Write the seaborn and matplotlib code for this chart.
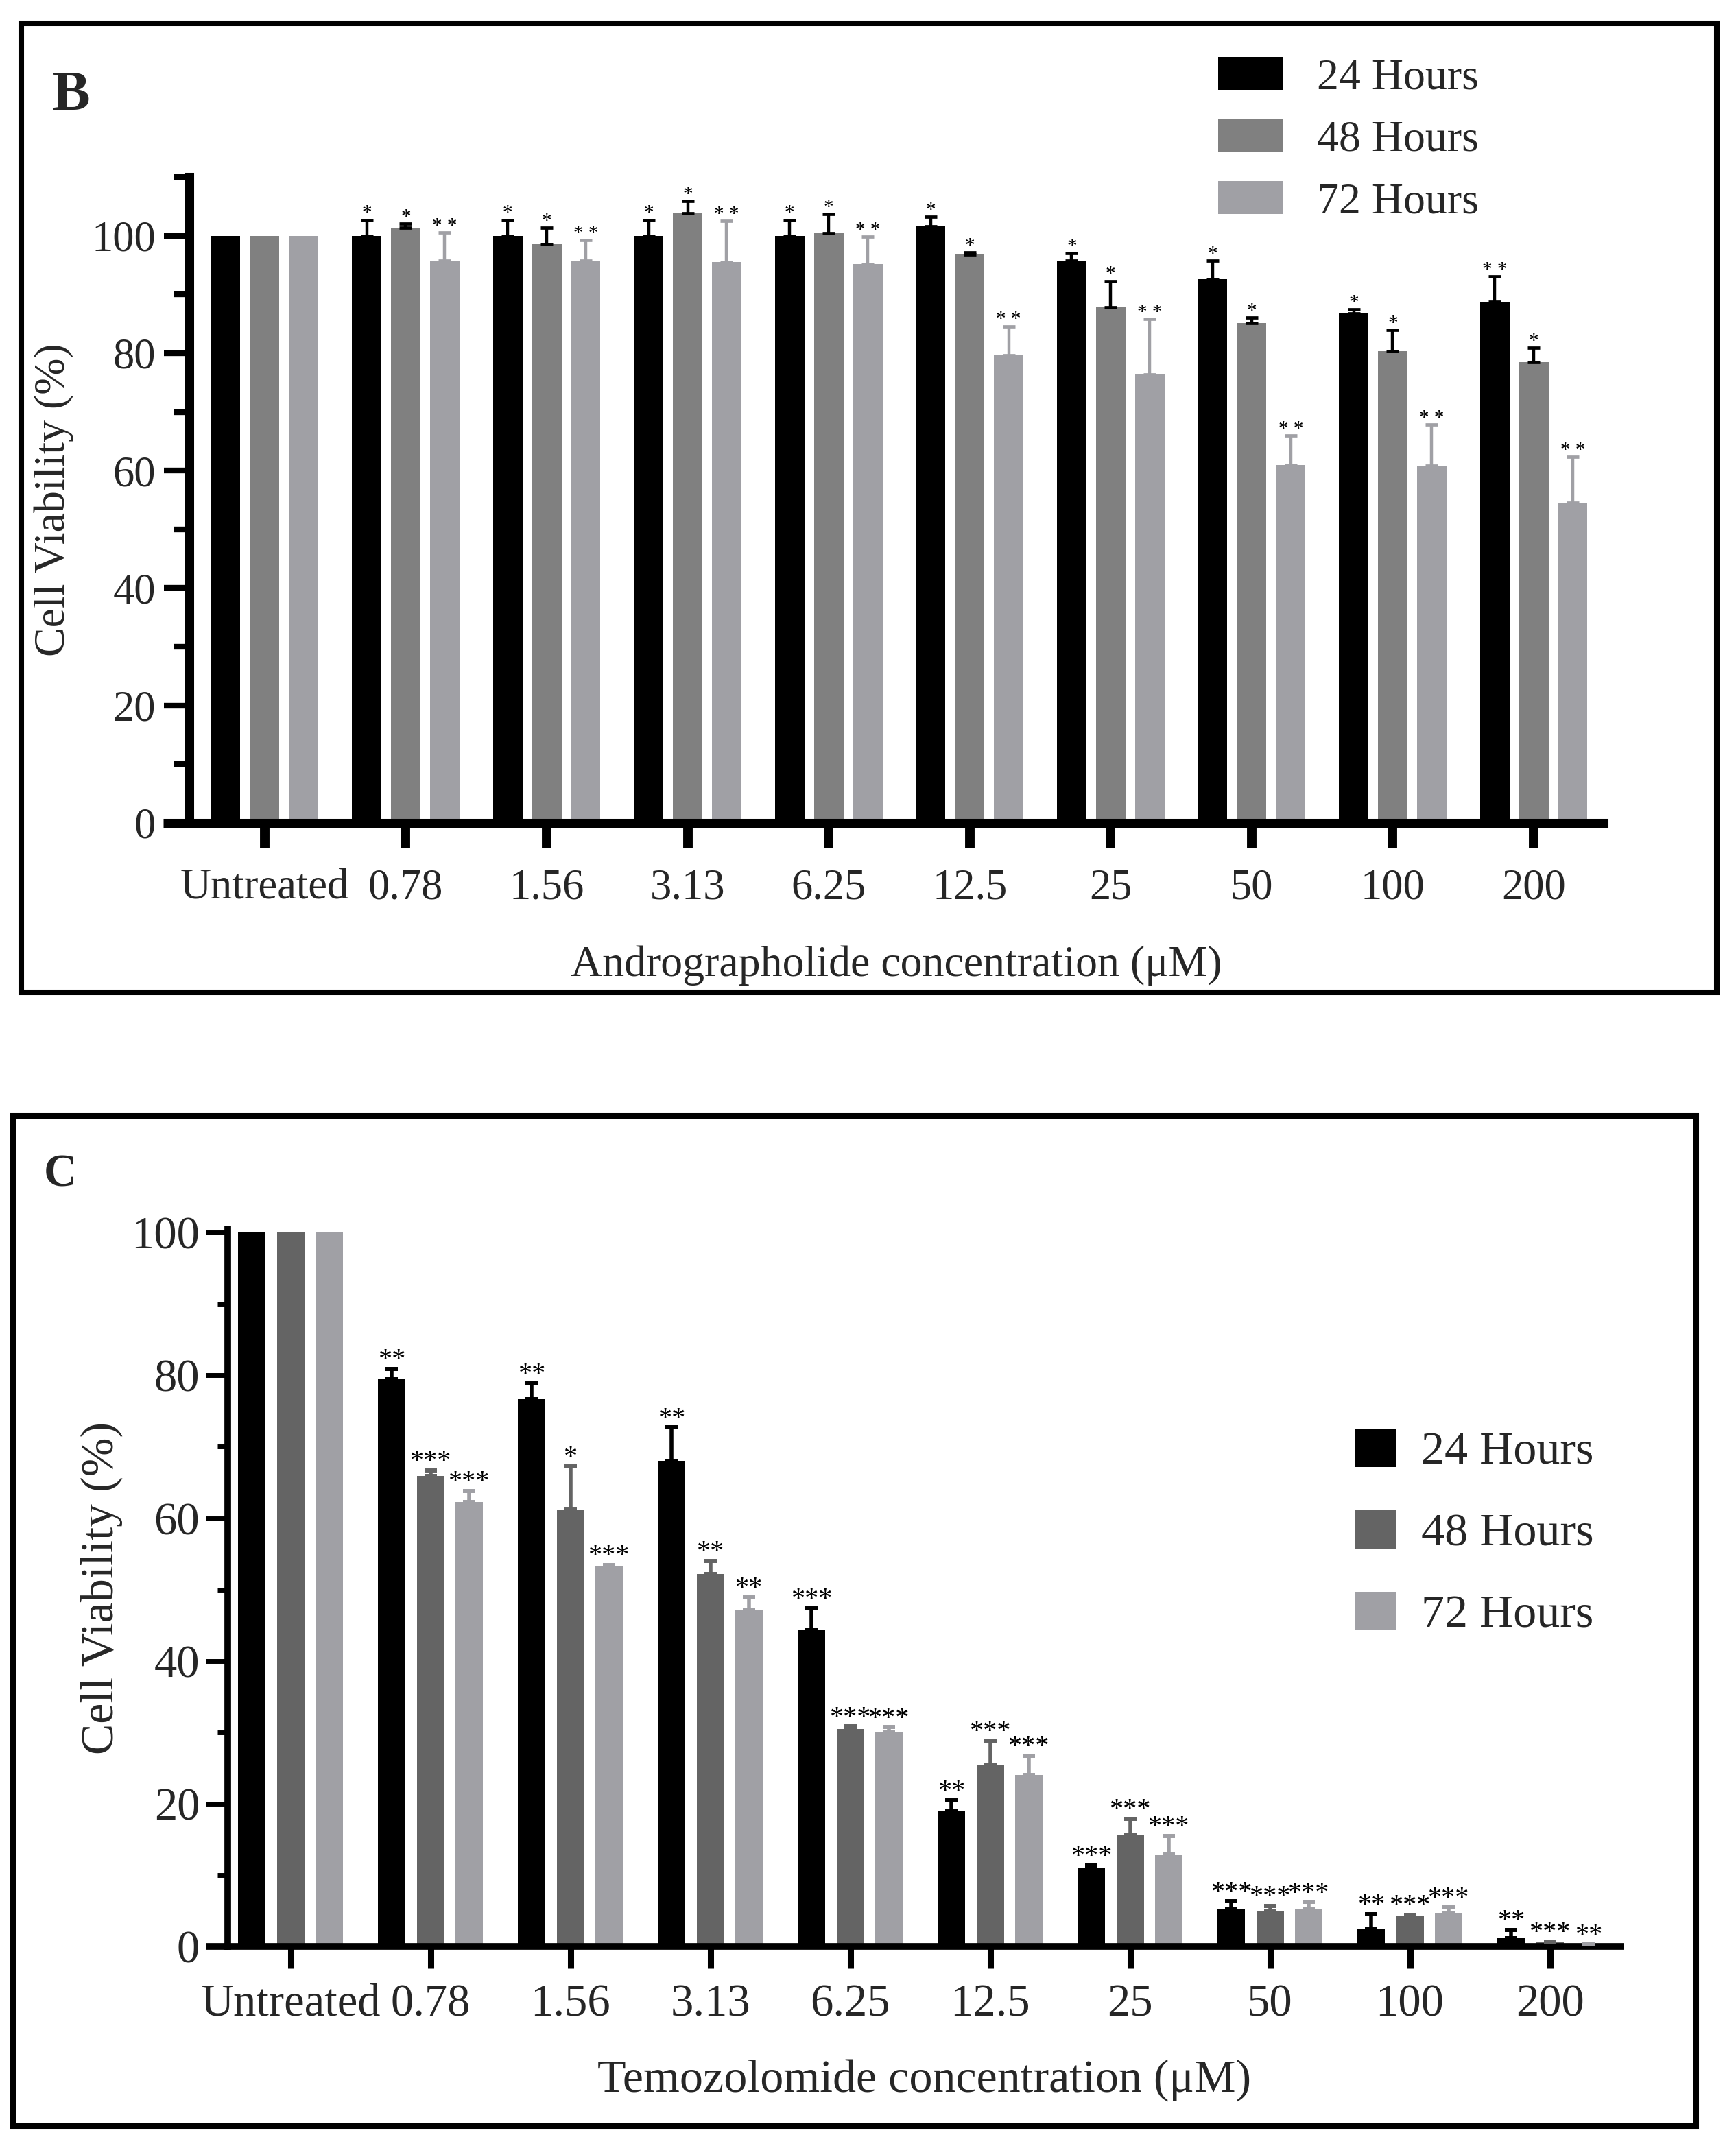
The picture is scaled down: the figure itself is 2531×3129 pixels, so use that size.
import numpy as np
import pandas as pd
import matplotlib
matplotlib.use('Agg')
import matplotlib.pyplot as plt
import seaborn as sns
from matplotlib.patches import Rectangle
from matplotlib.ticker import MultipleLocator

concentrations = ['Untreated', '0.78', '1.56', '3.13', '6.25', '12.5', '25', '50', '100', '200']
hours = ['24 Hours', '48 Hours', '72 Hours']

# B - andrographolide
andro_24 = [100, 100.0, 100.0, 100.0, 100.0, 101.6, 95.7, 92.6, 86.8, 88.7]
andro_48 = [100, 101.4, 98.5, 103.8, 100.4, 96.8, 87.8, 85.1, 80.3, 78.5]
andro_72 = [100, 95.7, 95.7, 95.5, 95.2, 79.6, 76.4, 61.0, 60.8, 54.5]
andro_24_err = [0, 2.7, 2.7, 2.7, 2.7, 1.6, 1.3, 3.1, 0.7, 4.4]
andro_48_err = [0, 0.7, 2.9, 2.1, 3.3, 0.4, 4.5, 1.0, 3.7, 2.4]
andro_72_err = [0, 4.8, 3.6, 7.0, 4.6, 5.0, 9.4, 5.0, 7.0, 7.9]
andro_24_sig = ['', '*', '*', '*', '*', '*', '*', '*', '*', '**']
andro_48_sig = ['', '*', '*', '*', '*', '*', '*', '*', '*', '*']
andro_72_sig = ['', '**', '**', '**', '**', '**', '**', '**', '**', '**']

# C - temozolomide
tmz_24 = [100, 79.5, 76.7, 68.0, 44.4, 18.9, 11.0, 5.2, 2.4, 1.2]
tmz_48 = [100, 65.9, 61.2, 52.2, 30.5, 25.5, 15.7, 4.9, 4.3, 0.6]
tmz_72 = [100, 62.3, 53.2, 47.2, 30.0, 24.0, 12.9, 5.2, 4.6, 0.3]
tmz_24_err = [0, 1.4, 2.2, 4.7, 3.0, 1.6, 0.4, 1.1, 2.1, 1.1]
tmz_48_err = [0, 0.8, 6.1, 1.8, 0.3, 3.3, 2.2, 0.8, 0.1, 0.1]
tmz_72_err = [0, 1.5, 0.2, 1.7, 0.7, 2.7, 2.6, 1.0, 0.9, 0.05]
tmz_24_sig = ['', '**', '**', '**', '***', '**', '***', '***', '**', '**']
tmz_48_sig = ['', '***', '*', '**', '***', '***', '***', '***', '***', '***']
tmz_72_sig = ['', '***', '***', '**', '***', '***', '***', '***', '***', '**']

sns.set_style('white')
plt.rcParams['font.family'] = ['Liberation Serif', 'DejaVu Serif']

W, H = 2531, 3129
fig = plt.figure(figsize=(W / 100, H / 100), dpi=100)


def px_axes(left, top, right, bottom):
    return fig.add_axes([left / W, 1 - bottom / H, (right - left) / W, (bottom - top) / H])


def draw_panel(ax, vals, errs, sigs, colors, err_colors, cfg):
    df = pd.DataFrame({
        'conc': concentrations * 3,
        'hours': np.repeat(hours, len(concentrations)),
        'viability': np.concatenate(vals),
    })
    sns.barplot(data=df, x='conc', y='viability', hue='hours', palette=colors,
                width=cfg['width'], gap=cfg['gap'], errorbar=None, saturation=1,
                linewidth=0, ax=ax)

    for cont, err, sig, ec in zip(ax.containers, errs, sigs, err_colors):
        xs = np.array([b.get_x() + b.get_width() / 2 for b in cont])
        hs = np.array([b.get_height() for b in cont])
        err = np.array(err)
        m = err > 0
        ax.errorbar(xs[m], hs[m], yerr=[np.zeros(m.sum()), err[m]], fmt='none',
                    ecolor=ec, elinewidth=cfg['elw'], capsize=cfg['capsize'],
                    capthick=cfg['capthick'], zorder=3)
        for x, h, e, s in zip(xs, hs, err, sig):
            if not s:
                continue
            txt = cfg['star_sep'].join(s)
            ax.annotate(txt, xy=(x, h + e), xytext=(0, cfg['star_off']),
                        textcoords='offset points', ha='center', va='baseline',
                        fontsize=cfg['star_fs'], color='black')

    fs = cfg['fs']
    ax.set_xlim(cfg['xlim'])
    ax.set_ylim(cfg['ylim'])
    ax.yaxis.set_major_locator(MultipleLocator(20))
    ax.yaxis.set_minor_locator(MultipleLocator(10))
    for s in ['top', 'right']:
        ax.spines[s].set_visible(False)
    for s in ['left', 'bottom']:
        ax.spines[s].set_linewidth(cfg['spine_lw'])
        ax.spines[s].set_color('black')
    ax.tick_params(axis='x', length=cfg['xt_len'], width=cfg['xt_w'], pad=cfg['xpad'],
                   labelsize=fs, color='black', bottom=True)
    ax.tick_params(axis='y', which='major', length=cfg['yt_len'], width=cfg['yt_w'],
                   pad=cfg['ypad'], labelsize=fs, color='black', left=True)
    ax.tick_params(axis='y', which='minor', length=cfg['ymt_len'], width=cfg['yt_w'],
                   color='black', left=True)
    # x axis line runs past the y axis as far as the major ticks
    ext = cfg['yt_len'] * 100 / 72 / (ax.get_position().width * W)
    ax.axhline(0, xmin=-ext, xmax=0, color='black', lw=cfg['spine_lw'],
               clip_on=False, solid_capstyle='butt', zorder=3)

    ax.set_xlabel(cfg['xlabel'], fontsize=cfg['lab_fs'])
    ax.set_ylabel('Cell Viability (%)', fontsize=cfg['lab_fs'])
    ax.xaxis.set_label_coords(0.5, cfg['xlab_y'])
    ax.yaxis.set_label_coords(cfg['ylab_x'], 0.5)

    sns.move_legend(ax, 'upper left', bbox_to_anchor=cfg['leg_anchor'],
                    bbox_transform=fig.transFigure, title=None, frameon=False,
                    fontsize=cfg['leg_fs'], handlelength=cfg['hl'], handleheight=cfg['hh'],
                    labelspacing=cfg['ls'], handletextpad=cfg['htp'],
                    borderpad=0, borderaxespad=0)


# ---- panel B
axB = px_axes(275.5, 258, 2338, 1200)
cfgB = dict(width=0.83, gap=0.245, elw=3.2, capsize=6.8, capthick=3.4,
            star_sep=' ', star_off=1.5, star_fs=21, fs=45, lab_fs=46,
            xlim=(-0.537, 9.496), ylim=(0, 110), spine_lw=9.4,
            xt_len=26, xt_w=10, xpad=22, yt_len=27, yt_w=6, ymt_len=16, ypad=8,
            xlabel='Andrographolide concentration (μM)', xlab_y=-0.190, ylab_x=-0.081,
            leg_anchor=(1776 / W, 1 - 83 / H), leg_fs=46, hl=1.49, hh=0.77, ls=0.48, htp=0.77)
draw_panel(axB, [andro_24, andro_48, andro_72],
           [andro_24_err, andro_48_err, andro_72_err],
           [andro_24_sig, andro_48_sig, andro_72_sig],
           ['#000000', '#808080', '#a0a0a5'], ['#000000', '#000000', '#a0a0a5'], cfgB)

# ---- panel C
axC = px_axes(331.5, 1792, 2363, 2838)
cfgC = dict(width=0.825, gap=0.287, elw=4.0, capsize=6.8, capthick=4.3,
            star_sep='', star_off=2, star_fs=29, fs=48, lab_fs=49,
            xlim=(-0.451, 9.507), ylim=(0, 100.5), spine_lw=7,
            xt_len=23, xt_w=6.5, xpad=16.5, yt_len=23, yt_w=5, ymt_len=11, ypad=6,
            xlabel='Temozolomide concentration (μM)', xlab_y=-0.157, ylab_x=-0.075,
            leg_anchor=(1975 / W, 1 - 2083 / H), leg_fs=49, hl=0.9, hh=0.9, ls=0.78, htp=0.52)
draw_panel(axC, [tmz_24, tmz_48, tmz_72],
           [tmz_24_err, tmz_48_err, tmz_72_err],
           [tmz_24_sig, tmz_48_sig, tmz_72_sig],
           ['#000000', '#646464', '#a0a0a5'], ['#000000', '#646464', '#a0a0a5'], cfgC)

# panel frames and letters
for (l, t, r, b) in [(31, 34, 2503, 1447), (19, 1627, 2473, 3100)]:
    fig.add_artist(Rectangle((l / W, 1 - b / H), (r - l) / W, (b - t) / H,
                             transform=fig.transFigure, fill=False, lw=5.8, ec='black'))
fig.text(76 / W, 1 - 160 / H, 'B', fontsize=60, fontweight='bold', ha='left', va='baseline')
fig.text(64 / W, 1 - 1730 / H, 'C', fontsize=48, fontweight='bold', ha='left', va='baseline')

fig.savefig('out.png', dpi=100)
